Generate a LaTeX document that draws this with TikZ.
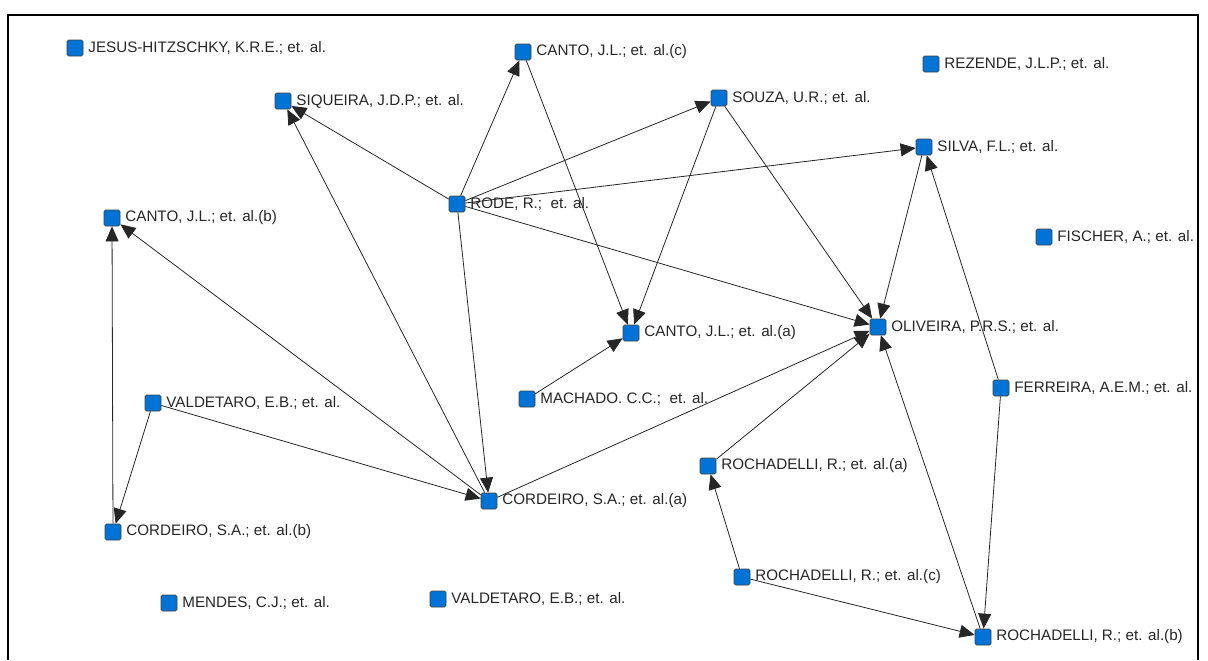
\documentclass[tikz,border=0pt]{standalone}
\usepackage{fontspec}
\setmainfont{Liberation Sans}
\usetikzlibrary{arrows.meta}
\definecolor{nodeblue}{RGB}{0,116,214}
\tikzset{basic/.style={draw=black!75,fill=nodeblue,minimum size=8pt,inner sep=0pt,rounded corners=0.8pt}}
\tikzset{names/.style={font=\fontsize{7.6}{8}\selectfont,text=black!85,inner sep=0.5pt}}
\tikzset{paper/.style={basic,label={[names,label distance=1.8pt]right:#1}}}
\tikzset{link/.style={draw,black!85,line width=0.4pt,-{Triangle[length=7.5pt,width=6.5pt]}}}

\begin{document}
\begin{tikzpicture}[x=0.5pt,y=-0.5pt]
    \useasboundingbox (0,0) rectangle (1208,660);
    \draw[line width=1pt] (8,660) -- (8,15) -- (1198,15) -- (1198,660);

    % authors without links
    \node[paper={JESUS-HITZSCHKY, K.R.E.; et. al.}] (jesus) at (75,48) {};
    \node[paper={REZENDE, J.L.P.; et. al.}] (rezende) at (931,64) {};
    \node[paper={FISCHER, A.; et. al.}] (fischer) at (1044,237) {};
    \node[paper={MENDES, C.J.; et. al.}] (mendes) at (169,603) {};
    \node[paper={VALDETARO, E.B.; et. al.}] (valdetarob) at (438,599) {};

    \node[paper={RODE, R.;\ \ et. al.}] (rode) at (457,204) {};
    \node[paper={CANTO, J.L.; et. al.(c)}] (cantoc) at (523,52) {};
    \node[paper={SIQUEIRA, J.D.P.; et. al.}] (siqueira) at (283,101) {};
    \node[paper={SOUZA, U.R.; et. al.}] (souza) at (719,98) {};
    \node[paper={SILVA, F.L.; et. al.}] (silva) at (924,147) {};
    \node[paper={OLIVEIRA, P.R.S.; et. al.}] (oliveira) at (878,327) {};
    \node[paper={CANTO, J.L.; et. al.(a)}] (cantoa) at (631,333) {};
    \node[paper={CORDEIRO, S.A.; et. al.(a)}] (cordeiroa) at (489,501) {};
        \path[link] (rode) -- (cantoc);
        \path[link] (rode) -- (siqueira);
        \path[link] (rode) -- (souza);
        \path[link] (rode) -- (silva);
        \path[link] (rode) -- (oliveira);
        \path[link] (rode) -- (cordeiroa);
        \path[link] (cantoc) -- (cantoa);
        \path[link] (souza) -- (cantoa);
        \path[link] (souza) -- (oliveira);
        \path[link] (silva) -- (oliveira);

    \node[paper={MACHADO. C.C.;\ \ et. al.}] (machado) at (527,399) {};
        \path[link] (machado) -- (cantoa);

    \node[paper={CANTO, J.L.; et. al.(b)}] (cantob) at (112,218) {};
    \node[paper={VALDETARO, E.B.; et. al.}] (valdetaro) at (153,403) {};
    \node[paper={CORDEIRO, S.A.; et. al.(b)}] (cordeirob) at (113,532) {};
        \path[link] (cordeiroa) -- (siqueira);
        \path[link] (cordeiroa) -- (cantob);
        \path[link] (cordeiroa) -- (oliveira);
        \path[link] (valdetaro) -- (cordeiroa);
        \path[link] (valdetaro) -- (cordeirob);
        \path[link] (cordeirob) -- (cantob);

    \node[paper={FERREIRA, A.E.M.; et. al.}] (ferreira) at (1001,388) {};
    \node[paper={ROCHADELLI, R.; et. al.(a)}] (rochadellia) at (708,466) {};
    \node[paper={ROCHADELLI, R.; et. al.(c)}] (rochadellic) at (742,577) {};
    \node[paper={ROCHADELLI, R.; et. al.(b)}] (rochadellib) at (983,637) {};
        \path[link] (ferreira) -- (silva);
        \path[link] (ferreira) -- (rochadellib);
        \path[link] (rochadellia) -- (oliveira);
        \path[link] (rochadellib) -- (oliveira);
        \path[link] (rochadellic) -- (rochadellia);
        \path[link] (rochadellic) -- (rochadellib);
\end{tikzpicture}
\end{document}
